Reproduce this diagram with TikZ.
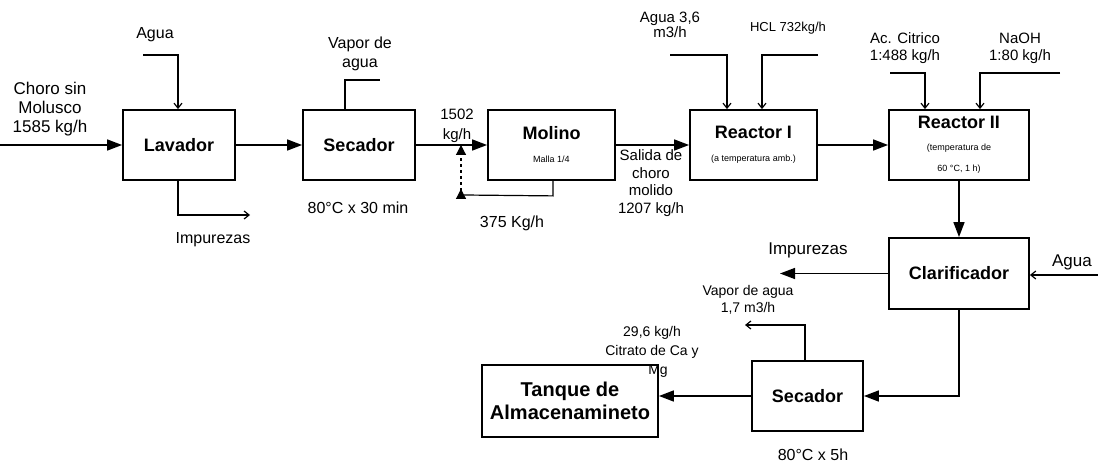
\documentclass[tikz,border=0pt]{standalone}
\usepackage{fontspec}
\setmainfont{Liberation Sans}
\usetikzlibrary{arrows.meta}
\begin{document}
\begin{tikzpicture}[x=1pt,y=-1pt,
  box/.style={draw, line width=1.8pt, inner sep=0pt, align=center,
    font=\bfseries\fontsize{18}{21}\selectfont},
  lbl/.style={inner sep=0pt, align=center, font=\fontsize{16}{19}\selectfont},
  lblb/.style={inner sep=0pt, align=center, font=\fontsize{17}{20}\selectfont},
  bigarr/.style={line width=1.5pt, -{Triangle[length=15pt,width=11pt]}},
  thinarr/.style={line width=1.2pt, -{Straight Barb[length=5pt,width=8pt]}},
  plain/.style={line width=1.2pt}]
\useasboundingbox[fill=white] (0,0) rectangle (1098,465);

% boxes
\node[box, minimum width=112pt, minimum height=70pt] (lav) at (179,145) {Lavador};
\node[box, minimum width=112pt, minimum height=70pt] (sec) at (359,145) {Secador};
\node[box, minimum width=127pt, minimum height=70pt] (mol) at (551.5,145)
  {Molino\\[2pt]{\mdseries\fontsize{9}{12}\selectfont Malla 1/4}};
\node[box, minimum width=127pt, minimum height=70pt] (r1) at (753.5,145)
  {Reactor I\\[2pt]{\mdseries\fontsize{9}{12}\selectfont (a temperatura amb.)}};
\node[box, minimum width=140pt, minimum height=70pt] (r2) at (959,145)
  {Reactor II\\[1pt]{\mdseries\fontsize{9}{12}\selectfont (temperatura de}\\{\mdseries\fontsize{9}{12}\selectfont 60 °C, 1 h)}};
\node[box, minimum width=140pt, minimum height=71pt] (cla) at (959,273.5) {Clarificador};
\node[box, minimum width=111pt, minimum height=70pt] (sec2) at (807.5,396) {Secador};
\node[box, minimum width=176pt, minimum height=72pt,
  font=\bfseries\fontsize{20}{23}\selectfont] (tan) at (570,401) {Tanque de\\Almacenamineto};

% labels
\node[lbl, font=\fontsize{17}{19}\selectfont] (l-choro) at (50,109) {Choro sin\\Molusco\\1585 kg/h};
\node[lbl] (l-agua1) at (155,35) {Agua};
\node[lbl] (l-imp1) at (213,240) {Impurezas};
\node[lbl] (l-vap1) at (360,54) {Vapor de\\agua};
\node[lbl] (l-t1) at (358,208) {80°C x 30 min};
\node[lbl, font=\fontsize{15}{20}\selectfont] (l-1502) at (457,126) {1502\\kg/h};
\node[lbl] (l-375) at (512,223) {375 Kg/h};
\node[lbl, font=\fontsize{15}{17.5}\selectfont] (l-sal) at (651,183) {Salida de\\choro\\molido\\1207 kg/h};
\node[lbl, font=\fontsize{15}{15}\selectfont] (l-agua36) at (670,25) {Agua 3,6\\m3/h};
\node[lbl, font=\fontsize{13}{15}\selectfont] (l-hcl) at (788,28) {HCL 732kg/h};
\node[lbl, font=\fontsize{15}{17}\selectfont] (l-ac) at (905,48) {Ac. Citrico\\1:488 kg/h};
\node[lbl, font=\fontsize{15}{17}\selectfont] (l-naoh) at (1020,48) {NaOH\\1:80 kg/h};
\node[lblb] (l-imp2) at (808,250) {Impurezas};
\node[lblb] (l-agua2) at (1072,262) {Agua};
\node[lbl, font=\fontsize{14}{17}\selectfont] (l-vap2) at (748,300) {Vapor de agua\\1,7 m3/h};
\node[lbl, font=\fontsize{14}{19}\selectfont] (l-cit) at (652,352) {29,6 kg/h\\Citrato de Ca y\\\hspace*{12pt}Mg};
\node[lbl] (l-t2) at (813,455) {80°C x 5h};

% free ends
\coordinate (in0) at (0,145);
\coordinate (a1) at (143,55);
\coordinate (i1) at (250,215);
\coordinate (v1) at (380,80);
\coordinate (rc) at (461,195);
\coordinate (a36) at (670,55);
\coordinate (hc) at (818,55);
\coordinate (ac) at (890,73);
\coordinate (na) at (1060,73);
\coordinate (a2) at (1098,275);
\coordinate (i2) at (780,273.5);
\coordinate (v2) at (745,325);

% connectors
\draw[bigarr] (in0) -- (lav.west);
\draw[thinarr] (a1) -| ([xshift=-1pt]lav.north);
\draw[thinarr] ([xshift=-1pt]lav.south) |- (i1);
\draw[bigarr] (lav.east) -- (sec.west);
\draw[plain] ([xshift=-14pt]sec.north) |- (v1);
\draw[bigarr] (sec.east) -- (mol.west);
\draw[plain] ([xshift=1.5pt]mol.south) -- ++(0,15) -- ([xshift=3pt]rc);
\draw[line width=1.2pt, dashed, {Triangle[reversed,length=10pt,width=10pt]}-{Triangle[length=10pt,width=10pt]}]
  ([yshift=-4pt]rc) -- (rc |- sec.east);
\draw[bigarr] (mol.east) -- (r1.west);
\draw[thinarr] (a36) -| ([xshift=-26.5pt]r1.north);
\draw[thinarr] (hc) -| ([xshift=8.5pt]r1.north);
\draw[bigarr] (r1.east) -- (r2.west);
\draw[thinarr] (ac) -| ([xshift=-34pt]r2.north);
\draw[thinarr] (na) -| ([xshift=21pt]r2.north);
\draw[bigarr] (r2.south) -- (cla.north);
\draw[thinarr] (a2) -- (a2 -| cla.east);
\draw[bigarr] (cla.west) -- (i2);
\draw[bigarr] (cla.south) |- (sec2.east);
\draw[thinarr] ([xshift=-2.5pt]sec2.north) |- (v2);
\draw[bigarr] (sec2.west) -- (sec2.west -| tan.east);
\end{tikzpicture}
\end{document}
